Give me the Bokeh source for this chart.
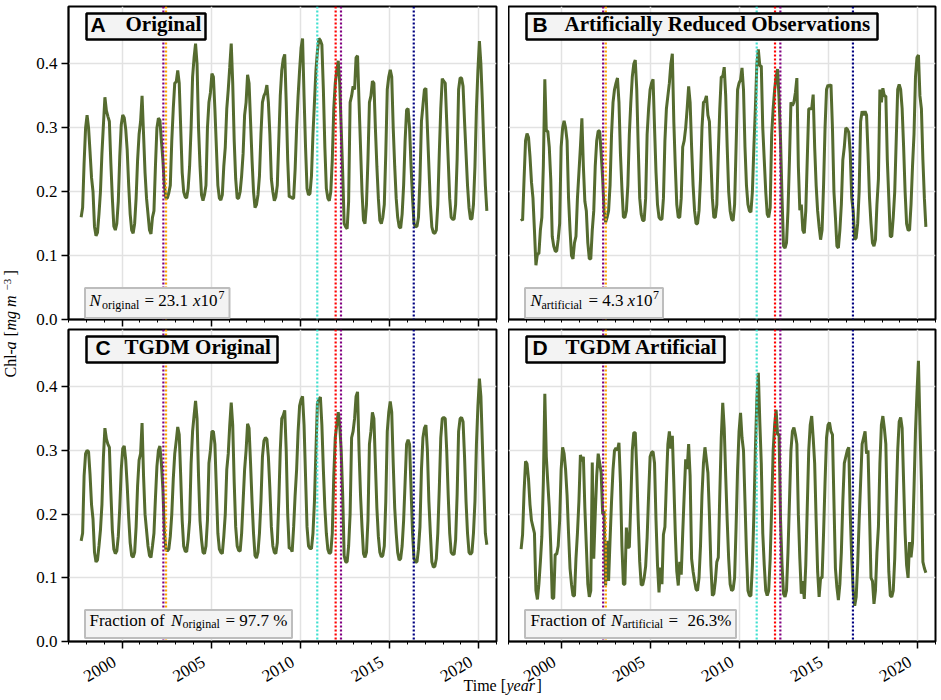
from bokeh.embed import file_html
from bokeh.layouts import column, row
from bokeh.models import BoxAnnotation, FixedTicker, Label, LinearAxis, Range1d, Span
from bokeh.plotting import figure
from bokeh.resources import INLINE

# monthly Chl-a, Sep 1997 - Jun 2020, one row per calendar year
chl_original = [
    .160, .175, .245, .300,
    .320, .300, .262, .222, .200, .145, .131, .136, .165, .200, .260, .305,
    .348, .327, .318, .310, .245, .190, .146, .140, .150, .185, .255, .305,
    .320, .316, .298, .265, .210, .165, .140, .135, .150, .190, .250, .290,
    .310, .350, .290, .230, .190, .165, .140, .134, .160, .170, .240, .300,
    .315, .312, .280, .250, .210, .190, .190, .198, .210, .280, .330, .370,
    .372, .390, .370, .300, .230, .200, .192, .190, .205, .240, .300, .380,
    .410, .432, .400, .300, .240, .195, .186, .195, .210, .300, .340, .355,
    .385, .380, .330, .270, .210, .190, .187, .195, .240, .270, .330, .360,
    .395, .432, .370, .280, .220, .190, .190, .200, .225, .260, .320, .340,
    .383, .370, .310, .250, .200, .175, .180, .195, .225, .290, .340, .350,
    .355, .367, .340, .290, .220, .200, .186, .192, .210, .280, .350, .390,
    .408, .415, .340, .250, .192, .192, .190, .190, .235, .300, .350, .390,
    .425, .440, .350, .270, .205, .195, .197, .225, .290, .340, .390, .420,
    .440, .437, .430, .360, .270, .205, .190, .186, .200, .250, .330, .370,
    .390, .405, .370, .300, .230, .150, .145, .142, .185, .340, .350, .365,
    .360, .410, .413, .340, .270, .200, .155, .150, .180, .250, .340, .350,
    .373, .370, .300, .240, .190, .155, .150, .160, .180, .260, .360, .380,
    .391, .380, .300, .240, .190, .160, .145, .143, .165, .210, .280, .328,
    .330, .300, .240, .190, .150, .145, .146, .160, .220, .310, .335, .360,
    .362, .300, .240, .180, .145, .136, .135, .140, .180, .260, .330, .377,
    .373, .370, .310, .250, .190, .160, .157, .157, .180, .250, .360, .378,
    .378, .365, .310, .260, .210, .175, .157, .158, .180, .240, .330, .390,
    .436, .400, .340, .270, .210, .170,
]
chl_reduced = [
    .158, .155, .220, .280,
    .291, .285, .255, .215, .190, .140, .085, .103, .103, .140, .160, .240,
    .376, .295, .295, .270, .220, .130, .115, .107, .107, .125, .150, .270,
    .300, .311, .300, .280, .190, .140, .100, .095, .120, .130, .190, .230,
    .270, .315, .240, .185, .170, .120, .095, .095, .140, .170, .240, .280,
    .295, .295, .260, .220, .170, .152, .160, .170, .210, .290, .340, .360,
    .370, .378, .340, .260, .205, .160, .160, .170, .210, .290, .340, .380,
    .400, .406, .360, .270, .190, .165, .155, .155, .190, .290, .330, .360,
    .370, .376, .300, .230, .180, .160, .157, .157, .190, .280, .330, .350,
    .370, .400, .416, .310, .240, .180, .160, .160, .190, .270, .280, .300,
    .330, .365, .340, .270, .210, .170, .150, .150, .170, .220, .300, .340,
    .342, .350, .320, .310, .250, .190, .160, .160, .180, .260, .330, .380,
    .380, .395, .350, .270, .200, .170, .157, .155, .180, .270, .360, .370,
    .375, .394, .360, .270, .210, .180, .170, .168, .200, .270, .330, .400,
    .423, .397, .397, .300, .250, .200, .165, .160, .175, .290, .330, .360,
    .380, .392, .345, .280, .190, .115, .112, .120, .170, .250, .340, .335,
    .340, .355, .378, .240, .171, .180, .140, .135, .170, .250, .330, .330,
    .330, .352, .270, .210, .170, .145, .125, .140, .210, .300, .360, .367,
    .365, .368, .300, .200, .160, .115, .112, .140, .180, .250, .270, .300,
    .298, .293, .260, .190, .170, .125, .128, .150, .200, .310, .326, .320,
    .326, .320, .260, .190, .150, .120, .115, .125, .180, .220, .360, .340,
    .362, .350, .350, .250, .190, .130, .130, .160, .200, .280, .360, .368,
    .360, .330, .270, .200, .150, .140, .140, .180, .240, .290, .380, .410,
    .414, .350, .330, .250, .190, .145,
]
chl_tgdm_original = [
    .158, .170, .260, .295,
    .300, .298, .262, .215, .192, .140, .125, .128, .150, .175, .215, .290,
    .335, .318, .310, .305, .235, .175, .145, .138, .142, .165, .210, .270,
    .303, .307, .285, .245, .195, .155, .135, .132, .140, .180, .245, .285,
    .295, .343, .260, .200, .175, .150, .135, .132, .150, .170, .225, .275,
    .300, .307, .280, .240, .175, .145, .142, .145, .165, .200, .255, .295,
    .315, .337, .325, .260, .190, .150, .142, .141, .160, .190, .280, .330,
    .355, .378, .350, .260, .190, .160, .140, .138, .150, .190, .280, .300,
    .330, .330, .310, .240, .170, .145, .140, .138, .165, .200, .270, .295,
    .340, .375, .340, .250, .180, .150, .143, .142, .170, .220, .270, .300,
    .342, .335, .280, .220, .170, .135, .131, .140, .170, .220, .290, .315,
    .320, .318, .290, .240, .180, .150, .140, .138, .155, .220, .300, .350,
    .355, .363, .300, .200, .146, .147, .141, .180, .230, .270, .330, .370,
    .380, .385, .340, .260, .180, .150, .146, .146, .170, .220, .300, .375,
    .380, .384, .340, .270, .210, .170, .145, .138, .140, .170, .260, .320,
    .340, .360, .340, .300, .230, .135, .125, .125, .150, .200, .320, .330,
    .350, .385, .392, .300, .230, .180, .138, .132, .140, .190, .310, .330,
    .360, .350, .280, .210, .165, .140, .133, .135, .150, .220, .330, .360,
    .377, .360, .280, .210, .170, .140, .128, .130, .150, .190, .250, .310,
    .317, .310, .240, .170, .130, .125, .125, .145, .180, .270, .320, .335,
    .340, .300, .220, .170, .125, .117, .118, .130, .170, .240, .320, .350,
    .352, .350, .300, .230, .170, .140, .137, .137, .160, .230, .330, .350,
    .352, .345, .290, .220, .170, .140, .137, .140, .170, .220, .310, .370,
    .413, .385, .310, .240, .170, .152,
]
chl_tgdm_artificial = [
    .145, .168, .235, .283,
    .279, .255, .215, .190, .180, .170, .080, .066, .090, .125, .165, .250,
    .389, .290, .250, .210, .150, .068, .068, .137, .137, .150, .190, .270,
    .305, .295, .270, .230, .170, .115, .090, .072, .072, .130, .170, .220,
    .293, .283, .290, .210, .150, .090, .070, .080, .281, .130, .200, .260,
    .295, .280, .265, .200, .205, .088, .158, .095, .160, .220, .270, .300,
    .304, .300, .312, .250, .150, .090, .090, .179, .148, .148, .220, .300,
    .328, .328, .270, .190, .125, .089, .089, .100, .118, .163, .230, .290,
    .297, .298, .280, .190, .120, .077, .116, .090, .168, .180, .250, .310,
    .330, .303, .323, .250, .170, .110, .088, .125, .105, .170, .230, .286,
    .271, .310, .260, .130, .110, .095, .082, .080, .100, .150, .230, .280,
    .305, .285, .265, .200, .120, .072, .075, .095, .125, .132, .230, .320,
    .375, .335, .260, .190, .130, .090, .080, .082, .100, .180, .270, .330,
    .359, .320, .300, .220, .140, .080, .072, .072, .120, .200, .300, .380,
    .422, .345, .280, .170, .120, .080, .072, .080, .130, .210, .300, .340,
    .364, .325, .325, .190, .120, .075, .070, .080, .140, .220, .300, .330,
    .336, .325, .310, .200, .130, .075, .095, .067, .120, .210, .300, .340,
    .354, .320, .280, .190, .110, .070, .100, .100, .170, .250, .320, .340,
    .344, .330, .325, .220, .115, .085, .065, .090, .140, .220, .280, .290,
    .300, .305, .200, .130, .080, .056, .070, .120, .190, .250, .310, .320,
    .330, .295, .300, .200, .100, .095, .059, .080, .140, .180, .280, .340,
    .354, .335, .310, .200, .110, .072, .070, .080, .130, .220, .300, .345,
    .352, .335, .250, .170, .120, .100, .156, .132, .155, .240, .330, .390,
    .441, .340, .250, .125, .115, .108,
]

years = [1997 + (8.5 + i) / 12 for i in range(len(chl_original))]

event_years = [2002.32, 2002.47, 2010.95, 2011.98, 2012.28, 2016.36]
event_colors = ["purple", "orange", "turquoise", "red", "purple", "navy"]

x_ticks = [2000, 2005, 2010, 2015, 2020]
x_minor_ticks = list(range(1997, 2022))
y_ticks = [0.0, 0.1, 0.2, 0.3, 0.4]
y_labels = {0: "0.0", 0.1: "0.1", 0.2: "0.2", 0.3: "0.3", 0.4: "0.4"}

SERIF = "Liberation Serif"
LINE_COLOR = "#556b2f"
# where bokeh puts a Label's alphabetic baseline, relative to the asked y
BASE_SHIFT = 0.42
# date labels are anchored right of their tick like the autofmt_xdate ones
LABEL_SHIFT = 0.42


def make_panel(series, frame_w, frame_h, show_y, show_x, major_ticks=True, border=(0, 0, 0, 0)):
    p = figure(frame_width=frame_w, frame_height=frame_h, x_range=Range1d(1997, 2021), y_range=Range1d(0, 0.49),
               toolbar_location=None, output_backend="svg",
               min_border_top=border[0], min_border_right=border[1], min_border_bottom=border[2], min_border_left=border[3])
    p.outline_line_color = "black"
    p.outline_line_width = 2
    p.background_fill_color = "white"
    p.grid.grid_line_color = "#e2e2e2"
    p.grid.grid_line_width = 1.5

    p.xaxis.ticker = FixedTicker(ticks=x_ticks, minor_ticks=x_minor_ticks)
    p.yaxis.ticker = FixedTicker(ticks=y_ticks)
    p.yaxis.major_label_overrides = y_labels
    for ax in [p.xaxis[0], p.yaxis[0]]:
        ax.axis_line_color = "black"
        ax.axis_line_width = 1.5
        ax.major_tick_line_color = "black"
        ax.major_tick_line_width = 1.5
        ax.major_tick_in = 0
        ax.major_tick_out = 7
        ax.minor_tick_in = 0
        ax.minor_tick_out = 3
        ax.minor_tick_line_color = "black"
        ax.minor_tick_line_width = 1
        ax.major_label_text_font = SERIF
        ax.major_label_text_font_size = "17px"
        ax.major_label_text_color = "black"
    p.yaxis.minor_tick_line_color = None
    p.yaxis.major_label_standoff = 4
    p.xaxis.major_label_overrides = {t: "" for t in x_ticks}
    p.xaxis.major_label_text_font_size = "1px"
    p.xaxis.major_label_standoff = 0
    if show_x:
        # second axis carries only the rotated labels, moved left of the ticks
        shifted = [t - LABEL_SHIFT for t in x_ticks]
        lab_axis = LinearAxis(ticker=FixedTicker(ticks=shifted),
                              major_label_overrides={s: str(t) for s, t in zip(shifted, x_ticks)})
        lab_axis.axis_line_color = None
        lab_axis.major_tick_line_color = None
        lab_axis.minor_tick_line_color = None
        lab_axis.major_label_orientation = 0.5236
        lab_axis.major_label_standoff = 6
        lab_axis.major_label_text_font = SERIF
        lab_axis.major_label_text_font_size = "17px"
        lab_axis.major_label_text_color = "black"
        p.add_layout(lab_axis, "below")
    if not major_ticks:
        p.xaxis[0].major_tick_line_color = None
    if not show_y:
        p.yaxis.visible = False

    p.line(years, series, line_color=LINE_COLOR, line_width=3)
    for yr, col in zip(event_years, event_colors):
        p.add_layout(Span(location=yr, dimension="height", line_color=col, line_width=2.2, line_dash="2 2"))
    return p


def text(p, origin, px, py, s, size, font=SERIF, style="normal", color="black"):
    # px, py are page pixels, origin is the frame's bottom left corner
    left, bottom = origin
    p.add_layout(Label(x=px - left, y=bottom - py + BASE_SHIFT * size, x_units="screen", y_units="screen", text=s,
                       text_font=font, text_font_size="{}px".format(size), text_font_style=style,
                       text_color=color, text_baseline="alphabetic", text_align="left"))


def box(p, origin, x0, y0, x1, y1, fill, edge, width):
    left, bottom = origin
    p.add_layout(BoxAnnotation(left=x0 - left, right=x1 - left, top=bottom - y0, bottom=bottom - y1,
                               left_units="screen", right_units="screen", top_units="screen", bottom_units="screen",
                               fill_color=fill, fill_alpha=1, line_color=edge, line_alpha=1, line_width=width))


def title_box(p, origin, x0, y0, x1, y1, letter, letter_x, title, title_x):
    box(p, origin, x0, y0, x1, y1, "#f3f3f3", "black", 2.5)
    text(p, origin, letter_x, y1 - 6.5, letter, 21, font="Liberation Sans", style="bold")
    text(p, origin, title_x, y1 - 6.5, title, 21, style="bold")


def note_box(p, origin, x0, y0, x1, y1):
    box(p, origin, x0, y0, x1, y1, "#f3f3f3", "#bdbdbd", 2)


def make_page():
    pa = make_panel(chl_original, 428, 313, True, False, border=(6, 12, 9, 38))
    pb = make_panel(chl_reduced, 427, 313, False, False, major_ticks=False, border=(6, 6, 9, 0))
    pc = make_panel(chl_tgdm_original, 428, 312, True, True, border=(1, 12, 59, 38))
    pd = make_panel(chl_tgdm_artificial, 427, 312, False, True, border=(1, 6, 59, 0))
    oa, ob, oc, od = (68, 319), (508, 319), (68, 641), (508, 641)

    title_box(pa, oa, 86, 13, 205, 39, "A", 90, "Original", 125)
    title_box(pb, ob, 526, 13, 877, 39, "B", 532, "Artificially Reduced Observations", 564)
    title_box(pc, oc, 86, 336, 277, 362, "C", 95, "TGDM Original", 124)
    title_box(pd, od, 526, 336, 724, 362, "D", 532, "TGDM Artificial", 565)

    note_box(pa, oa, 84.5, 287.5, 229, 317.5)
    text(pa, oa, 89, 307.5, "N", 17, style="italic")
    text(pa, oa, 101.5, 309.5, "original", 12)
    text(pa, oa, 144, 307.5, "= 23.1", 17)
    text(pa, oa, 192.5, 307.5, "x", 17, style="italic")
    text(pa, oa, 200, 307.5, "10", 17)
    text(pa, oa, 218, 300, "7", 12)

    note_box(pb, ob, 524.5, 287.5, 662.5, 317.5)
    text(pb, ob, 530, 307.5, "N", 17, style="italic")
    text(pb, ob, 541, 309.5, "artificial", 12)
    text(pb, ob, 588, 307.5, "= 4.3", 17)
    text(pb, ob, 627, 307.5, "x", 17, style="italic")
    text(pb, ob, 635, 307.5, "10", 17)
    text(pb, ob, 652.5, 300, "7", 12)

    note_box(pc, oc, 84.5, 609.5, 291.5, 637.5)
    text(pc, oc, 89, 627, "Fraction of", 17)
    text(pc, oc, 170.5, 627, "N", 17, style="italic")
    text(pc, oc, 182, 629, "original", 12)
    text(pc, oc, 225, 627, "= 97.7 %", 17)

    note_box(pd, od, 524.5, 609.5, 735.5, 637.5)
    text(pd, od, 530, 627, "Fraction of", 17)
    text(pd, od, 610.5, 627, "N", 17, style="italic")
    text(pd, od, 622, 629, "artificial", 12)
    text(pd, od, 668, 627, "=", 17)
    text(pd, od, 687, 627, "26.3%", 17)

    # y label sits in its own strip because it crosses both rows
    ylab = figure(width=30, height=700, x_range=Range1d(0, 30), y_range=Range1d(0, 700), x_axis_type=None,
                  y_axis_type=None, toolbar_location=None, output_backend="svg", min_border=0)
    ylab.outline_line_color = None
    ylab.grid.visible = False
    for px, py, s, size, style in [(16.5, 377, "Chl-", 16, "normal"), (16.5, 349, "a", 16, "italic"),
                                   (16.5, 336, "[", 16, "normal"), (16.5, 330, "mg m", 16, "italic"),
                                   (12, 290, "\u22123", 11, "normal"), (16.5, 275, "]", 16, "normal")]:
        ylab.add_layout(Label(x=px - BASE_SHIFT * size, y=700 - py, x_units="screen", y_units="screen", text=s,
                              angle=90, angle_units="deg", text_color="black",
                              text_font=SERIF, text_font_size="{}px".format(size), text_font_style=style,
                              text_baseline="alphabetic", text_align="left"))

    # x label crosses the two lower panels, so it is overlaid on a strip
    xlab = figure(width=90, height=32, x_range=Range1d(0, 90), y_range=Range1d(0, 32), x_axis_type=None,
                  y_axis_type=None, toolbar_location=None, output_backend="svg", min_border=0,
                  margin=(-32, 0, 0, 460))
    xlab.outline_line_color = None
    xlab.grid.visible = False
    xlab.background_fill_alpha = 0
    xlab.border_fill_alpha = 0
    for px, s, style in [(3, "Time [", "normal"), (46, "year", "italic"), (76, "]", "normal")]:
        xlab.add_layout(Label(x=px, y=8 + BASE_SHIFT * 16, x_units="screen", y_units="screen", text=s, text_color="black",
                              text_font=SERIF, text_font_size="16px", text_font_style=style,
                              text_baseline="alphabetic", text_align="left"))

    panels = column(row(pa, pb, spacing=0), row(pc, pd, spacing=0), spacing=0)
    body = row(ylab, panels, spacing=0)
    return column(body, xlab, spacing=0)


page = make_page()
open("out.html", "w").write(file_html(page, INLINE))
